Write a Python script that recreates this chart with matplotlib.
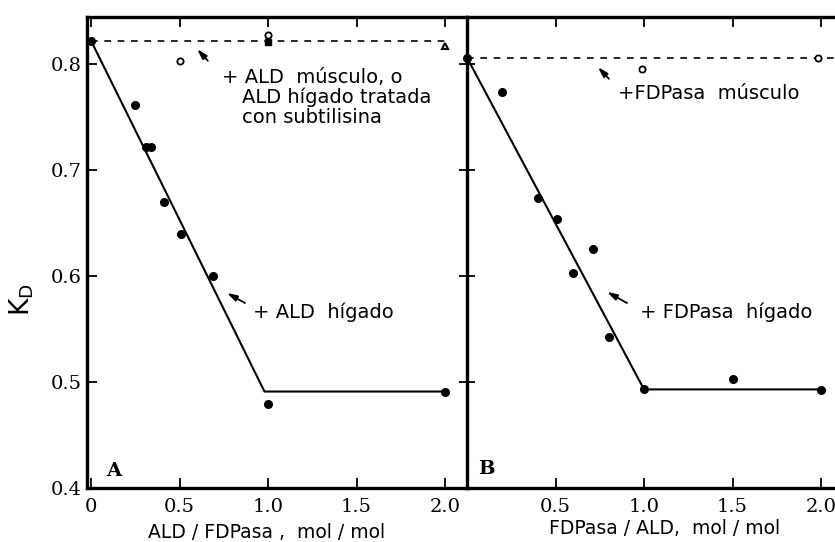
import matplotlib
matplotlib.use("Agg")
import matplotlib.pyplot as plt

# ---- data ----
# Panel A : K_D vs ALD/FDPasa
a_liver_x = [0.0, 0.25, 0.31, 0.34, 0.41, 0.51, 0.69, 1.0, 2.0]
a_liver_y = [0.822, 0.761, 0.722, 0.722, 0.670, 0.640, 0.600, 0.479, 0.491]
a_fit_x = [0.0, 0.98, 2.0]
a_fit_y = [0.822, 0.491, 0.491]
a_open_x = [0.5, 1.0]
a_open_y = [0.803, 0.827]
a_square_x = [1.0]
a_square_y = [0.821]
a_tri_x = [2.0]
a_tri_y = [0.817]
a_dash_x = [0.0, 2.0]
a_dash_y = [0.822, 0.822]

# Panel B : K_D vs FDPasa/ALD
b_liver_x = [0.0, 0.2, 0.4, 0.51, 0.60, 0.71, 0.80, 1.0, 1.5, 2.0]
b_liver_y = [0.806, 0.774, 0.674, 0.654, 0.603, 0.625, 0.542, 0.493, 0.503, 0.492]
b_fit_x = [0.0, 1.0, 2.0]
b_fit_y = [0.806, 0.493, 0.493]
b_open_x = [0.99, 1.98]
b_open_y = [0.795, 0.806]
b_dash_x = [0.0, 2.12]
b_dash_y = [0.806, 0.806]

a_x_ticks = [0, 0.5, 1.0, 1.5, 2.0]
a_x_ticklabels = ["0", "0.5", "1.0", "1.5", "2.0"]
b_x_ticks = [0.5, 1.0, 1.5, 2.0]
b_x_ticklabels = ["0.5", "1.0", "1.5", "2.0"]
y_ticks = [0.4, 0.5, 0.6, 0.7, 0.8]
y_ticklabels = ["0.4", "0.5", "0.6", "0.7", "0.8"]

W, H = 835, 542
fig = plt.figure(figsize=(W / 100, H / 100), dpi=100)

def fr(x0, y0, x1, y1):
    return [x0 / W, 1 - y1 / H, (x1 - x0) / W, (y1 - y0) / H]

axA = fig.add_axes(fr(87, 17, 467, 488))
axB = fig.add_axes(fr(467, 17, 840, 488))

ylim = (0.4, 0.8443)
axA.set_xlim(-0.0226, 2.124)
axB.set_xlim(0.0, 2.107)
for ax in (axA, axB):
    ax.set_ylim(*ylim)
    for s in ax.spines.values():
        s.set_linewidth(2.4)
    ax.set_yticks(y_ticks)

serif = "DejaVu Serif"
sans = "DejaVu Sans"

# Panel A ticks
axA.set_xticks(a_x_ticks)
axA.set_xticklabels(a_x_ticklabels, family=serif, fontsize=14)
axA.set_yticklabels(y_ticklabels, family=serif, fontsize=14)
axA.tick_params(axis="x", direction="in", top=True, bottom=True, length=7, width=1.3, pad=7)
axA.tick_params(axis="y", direction="in", left=True, right=False, length=7, width=1.3, pad=4)
# Panel B ticks
axB.set_xticks(b_x_ticks)
axB.set_xticklabels(b_x_ticklabels, family=serif, fontsize=14)
axB.tick_params(axis="x", direction="in", top=True, bottom=True, length=7, width=1.3, pad=7)
axB.tick_params(axis="y", direction="inout", left=True, right=False, length=12, width=1.3, labelleft=False)
axB.spines["right"].set_visible(False)
axA.spines["right"].set_visible(False)

# ---- Panel A marks ----
axA.plot(a_dash_x, a_dash_y, color="black", lw=1.2, ls=(0, (4, 4)))
axA.plot(a_fit_x, a_fit_y, color="black", lw=1.5)
axA.plot(a_liver_x, a_liver_y, "o", color="black", ms=5.5, clip_on=False)
axA.plot(a_open_x, a_open_y, "o", mfc="white", mec="black", mew=1.3, ms=4.5)
axA.plot(a_square_x, a_square_y, "s", color="black", ms=4.5)
axA.plot(a_tri_x, a_tri_y, "^", mfc="white", mec="black", mew=1.5, ms=4.5)

# ---- Panel B marks ----
axB.plot(b_dash_x, b_dash_y, color="black", lw=1.2, ls=(0, (4, 4)))
axB.plot(b_fit_x, b_fit_y, color="black", lw=1.5)
axB.plot(b_liver_x, b_liver_y, "o", color="black", ms=5.5, clip_on=False)
axB.plot(b_open_x, b_open_y, "o", mfc="white", mec="black", mew=1.3, ms=4.5)

arrow = dict(arrowstyle="-|>,head_length=0.6,head_width=0.18", color="black", lw=1.3,
             shrinkA=0, shrinkB=0)
tfont = dict(family=sans, fontsize=14, va="baseline", ha="left")

# Panel A annotations
axA.annotate("", xy=(0.60, 0.814), xytext=(0.66, 0.803), arrowprops=arrow)
axA.text(0.74, 0.782, "+ ALD  músculo, o", **tfont)
axA.text(0.853, 0.763, "ALD hígado tratada", **tfont)
axA.text(0.853, 0.744, "con subtilisina", **tfont)
axA.annotate("", xy=(0.768, 0.584), xytext=(0.87, 0.5745), arrowprops=arrow)
axA.text(0.915, 0.560, "+ ALD  hígado", **tfont)
axA.text(0.085, 0.411, "A", family=serif, fontsize=14, fontweight="bold", va="baseline", ha="left")

# Panel B annotations
axB.annotate("", xy=(0.74, 0.797), xytext=(0.802, 0.786), arrowprops=arrow)
axB.text(0.853, 0.767, "+FDPasa  músculo", **tfont)
axB.annotate("", xy=(0.791, 0.585), xytext=(0.904, 0.5745), arrowprops=arrow)
axB.text(0.976, 0.560, "+ FDPasa  hígado", **tfont)
axB.text(0.062, 0.413, "B", family=serif, fontsize=14, fontweight="bold", va="baseline", ha="left")

# axis labels
fig.text(22 / W, 1 - 300 / H, r"K$_\mathregular{D}$", family=sans, fontsize=19,
         rotation=90, ha="center", va="center")
fig.text(267 / W, 1 - 533 / H, "ALD / FDPasa ,  mol / mol", family=sans, fontsize=13.5,
         ha="center", va="center")
fig.text(665 / W, 1 - 529 / H, "FDPasa / ALD,  mol / mol", family=sans, fontsize=13.5,
         ha="center", va="center")

fig.savefig("out.png", dpi=100)
